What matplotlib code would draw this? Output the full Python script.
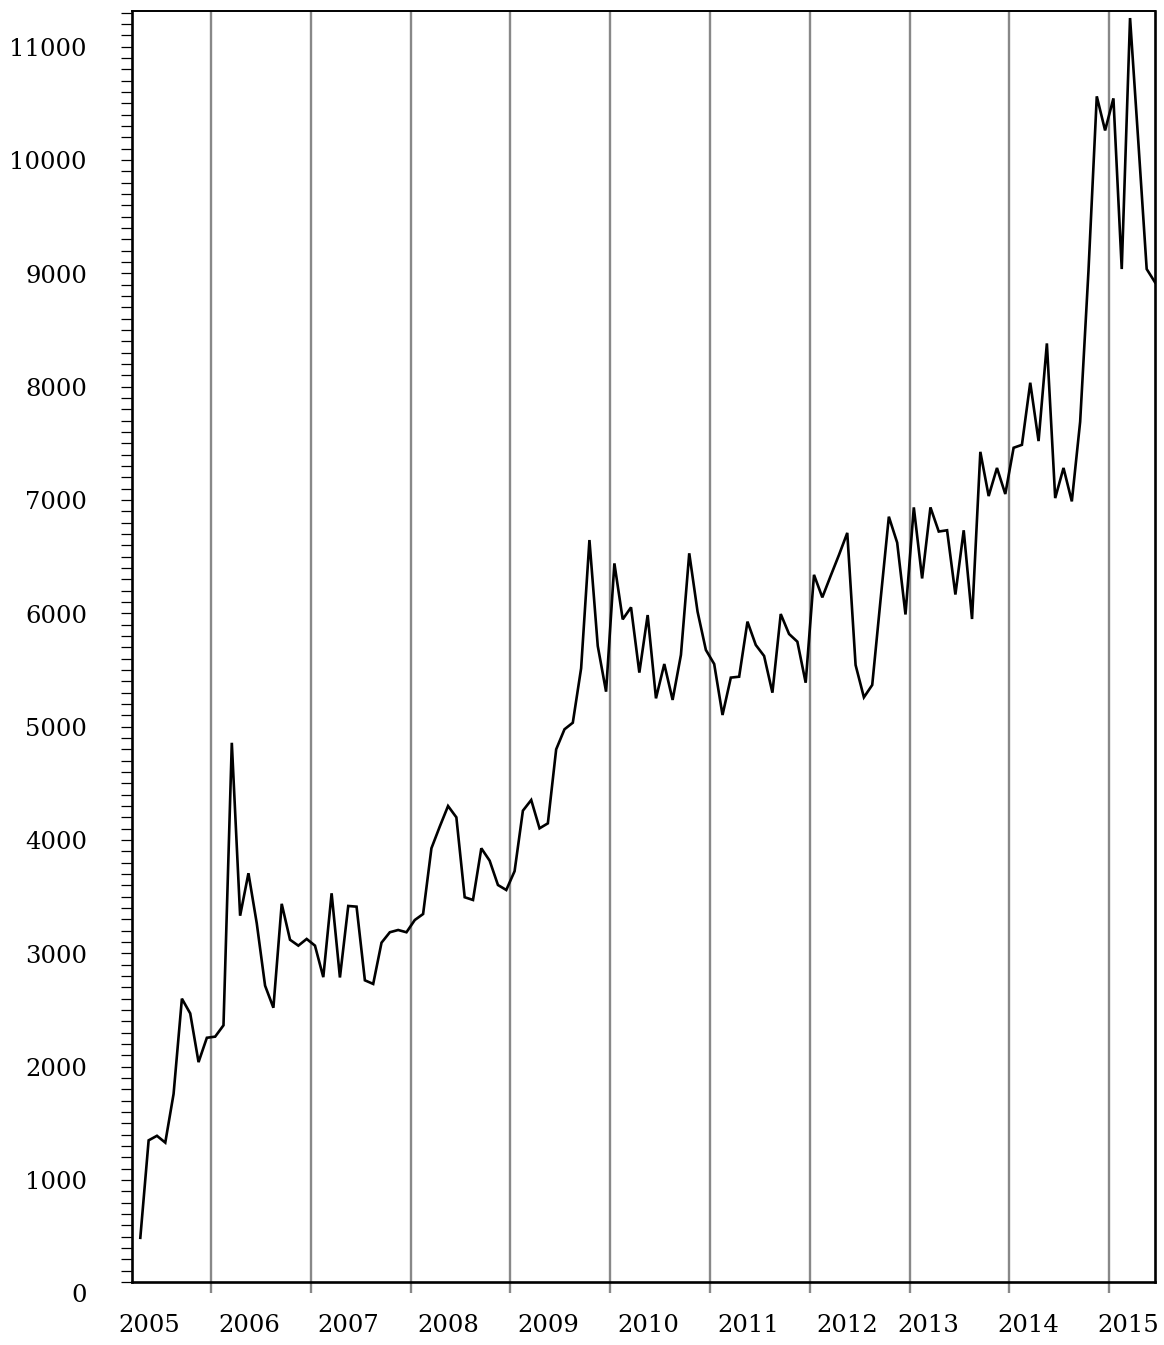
import numpy as np
import matplotlib.pyplot as plt
from matplotlib.transforms import ScaledTranslation, blended_transform_factory

# monthly series, starting April 2005
start_year = 2005
start_month = 4
values = [
    390, 1250, 1290, 1230, 1660, 2500, 2370, 1940, 2155, 2165, 2265, 4758,
    3232, 3607, 3165, 2615, 2420, 3337, 3020, 2968, 3027, 2968, 2690, 3430,
    2687, 3318, 3312, 2662, 2630, 2994, 3086, 3106, 3086, 3194, 3247, 3827,
    4018, 4200, 4100, 3395, 3371, 3827, 3718, 3503, 3459, 3625, 4159, 4253,
    4003, 4047, 4700, 4877, 4935, 5415, 6547, 5612, 5209, 6341, 5847, 5953,
    5377, 5885, 5150, 5453, 5136, 5533, 6430, 5915, 5577, 5453, 5003, 5333,
    5341, 5827, 5621, 5524, 5200, 5894, 5718, 5650, 5288, 6240, 6041, 6230,
    6415, 6610, 5444, 5159, 5268, 6018, 6753, 6524, 5890, 6835, 6208, 6835,
    6622, 6633, 6066, 6633, 5850, 7325, 6935, 7183, 6953, 7361, 7387, 7935,
    7420, 8282, 6917, 7183, 6888, 7590, 8920, 10462, 10161, 10444, 8938, 11153,
    10054, 8938, 8821,
]
years = list(range(2005, 2016))
year_labels = [str(y) for y in years]
# horizontal nudge of each year label (pixels)
year_label_shift = [7, 7, 7, 7, 7, 7, 7, 7, -12, -12, -12]
ytick_values = list(range(0, 12000, 1000))
y_max = 11215

x = start_year + (np.arange(len(values)) + start_month - 0.5) / 12

fig = plt.figure(figsize=(11.64, 13.45), dpi=100)
ax = fig.add_axes([132 / 1164, 63 / 1345, (1155 - 132) / 1164, (1282 - 11) / 1345])

ax.plot(x, values, color="black", linewidth=1.9, solid_joinstyle="miter", zorder=3)

ax.set_xlim(x[0] - 1 / 12, x[-1])
ax.set_ylim(0, y_max)

# year gridlines, with gray ticks below the axis
ax.set_xticks([y for y in years if x[0] - 1 / 12 < y < x[-1]])
ax.grid(True, axis="x", color="#888888", linewidth=1.7)
ax.tick_params(axis="x", direction="out", length=8, width=1.7, color="#888888",
               labelbottom=False)

ax.set_yticks(np.arange(0, y_max, 100))
ax.tick_params(axis="y", direction="out", length=8, width=0.9, color="black",
               labelleft=False)

for side in ["left", "bottom", "right"]:
    ax.spines[side].set_linewidth(1.9)
ax.spines["top"].set_linewidth(1.4)

font = dict(family="DejaVu Serif", fontsize=17.5, color="black")

ytrans = blended_transform_factory(ax.transAxes, ax.transData)
for v in ytick_values:
    if v > y_max:
        continue
    ax.text(0, v, str(v), ha="right", va="center",
            transform=ytrans + ScaledTranslation(-0.45, -0.14, fig.dpi_scale_trans),
            **font)

xtrans = blended_transform_factory(ax.transData, ax.transAxes)
for yr, lab, dx in zip(years, year_labels, year_label_shift):
    ax.text(yr, 0, lab, ha="left", va="center", clip_on=False,
            transform=xtrans + ScaledTranslation(dx / 100, -0.44, fig.dpi_scale_trans),
            **font)

fig.savefig("out.png", dpi=100)
